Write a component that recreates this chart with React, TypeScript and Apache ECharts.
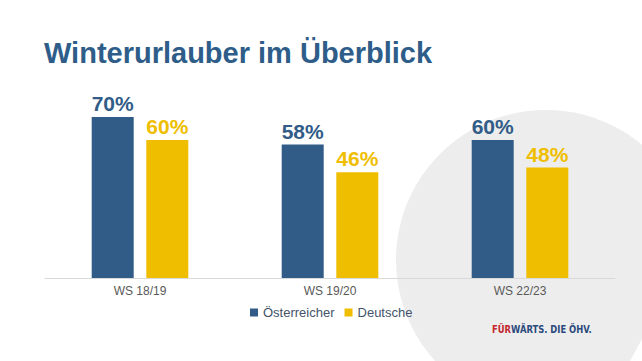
import React, { useEffect, useRef } from "react";
import * as echarts from "echarts";

const categories = ["WS 18/19", "WS 19/20", "WS 22/23"];
const seriesNames = ["Österreicher", "Deutsche"];
const oesterreicher = [70, 58, 60];
const deutsche = [60, 46, 48];
const titleText = "Winterurlauber im Überblick";

const BLUE = "#315c87";
const YELLOW = "#efbe00";

export default function App() {
  const ref = useRef<HTMLDivElement>(null);
  useEffect(() => {
    document.body.style.margin = "0";
    const chart = echarts.init(ref.current!, null, { renderer: "svg" });
    const font = "Liberation Sans, Arial, sans-serif";
    const logoFont = "Liberation Sans Narrow, DejaVu Sans Condensed, Liberation Sans, sans-serif";
    chart.setOption({
      animation: false,
      backgroundColor: "#ffffff",
      textStyle: { fontFamily: font },
      title: {
        text: titleText,
        left: 39,
        top: 33,
        textStyle: { fontSize: 29, fontWeight: "bold", color: "#2e5d89", fontFamily: font },
      },
      graphic: [
        { type: "circle", z: -10, shape: { cx: 546, cy: 260, r: 150 }, style: { fill: "#ededed" } },
        { type: "polygon", z: -9, shape: { points: [[630, 361], [642, 339], [642, 361]] }, style: { fill: "#ffffff" } },
        {
          type: "text",
          x: 492,
          y: 324,
          scaleX: 0.85,
          style: {
            text: "{r|FÜR}{b|WÄRTS. DIE ÖHV.}",
            rich: {
              r: { fill: "#c1272d", fontSize: 11, fontWeight: "bold", fontFamily: logoFont },
              b: { fill: "#2b4a7c", fontSize: 11, fontWeight: "bold", fontFamily: logoFont },
            },
          },
        },
      ],
      legend: {
        data: seriesNames,
        left: 245,
        top: 301,
        icon: "rect",
        itemWidth: 8,
        itemHeight: 8,
        itemGap: 10,
        textStyle: { fontSize: 13, color: "#44546a", fontFamily: font },
      },
      grid: { left: 45, right: 27, top: 94, bottom: 83 },
      xAxis: {
        type: "category",
        data: categories,
        axisLine: { lineStyle: { color: "#d9d9d9" } },
        axisTick: { show: false },
        axisLabel: { color: "#595959", fontSize: 12, margin: 7, fontFamily: font },
      },
      yAxis: { type: "value", min: 0, max: 80, show: false, splitLine: { show: false } },
      series: [
        {
          name: seriesNames[0],
          type: "bar",
          data: oesterreicher,
          barWidth: 42,
          barGap: "30%",
          itemStyle: { color: BLUE },
          label: {
            show: true,
            position: "top",
            distance: 3,
            formatter: "{c}%",
            color: BLUE,
            fontSize: 21,
            fontWeight: "bold",
            fontFamily: font,
          },
        },
        {
          name: seriesNames[1],
          type: "bar",
          data: deutsche,
          barWidth: 42,
          itemStyle: { color: YELLOW },
          label: {
            show: true,
            position: "top",
            distance: 3,
            formatter: "{c}%",
            color: YELLOW,
            fontSize: 21,
            fontWeight: "bold",
            fontFamily: font,
          },
        },
      ],
    });
    return () => chart.dispose();
  }, []);
  return <div ref={ref} style={{ width: 642, height: 361 }} />;
}
